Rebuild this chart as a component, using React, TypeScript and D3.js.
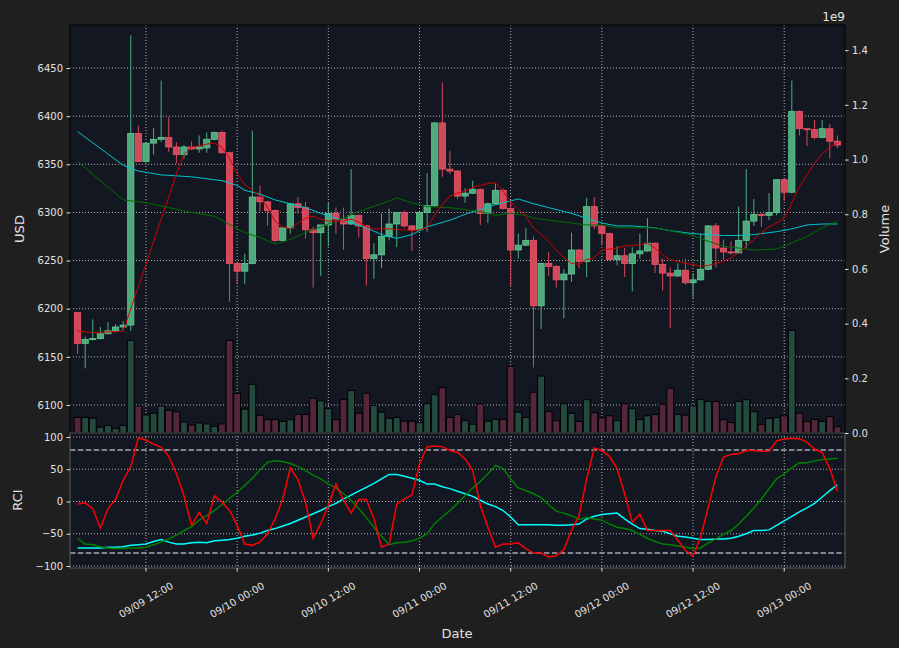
import React, { useEffect, useRef } from "react";
import * as d3 from "d3";

// hourly candles, first one at 09/09 03:00 (UTC)
const START = Date.UTC(2018, 8, 9, 3);
const HOUR = 3600 * 1000;

const opens = [
  6196, 6164, 6168, 6169, 6174, 6177, 6181, 6183, 6382, 6353, 6372, 6376, 6378, 6368, 6360, 6368, 6366, 6367, 6376, 6383,
  6362, 6247, 6239, 6247, 6316, 6311, 6302, 6271, 6284, 6309, 6305, 6282, 6279, 6287, 6299, 6293, 6288, 6297, 6286, 6252,
  6256, 6275, 6288, 6300, 6286, 6282, 6300, 6307, 6393, 6345, 6343, 6317, 6320, 6324, 6299, 6309, 6323, 6304, 6261, 6266,
  6271, 6203, 6247, 6244, 6230, 6236, 6261, 6249, 6306, 6286, 6278, 6251, 6255, 6247, 6257, 6260, 6268, 6246, 6237, 6234,
  6240, 6227, 6230, 6241, 6286, 6263, 6259, 6258, 6271, 6291, 6298, 6297, 6300, 6334, 6321, 6405, 6387, 6386, 6378, 6387,
  6374,
];
const highs = [
  6196, 6171, 6189, 6181, 6186, 6184, 6187, 6484, 6390, 6372, 6388, 6437, 6399, 6373, 6370, 6374, 6380, 6383, 6384, 6385,
  6363, 6248, 6257, 6385, 6328, 6312, 6303, 6284, 6310, 6316, 6311, 6285, 6287, 6310, 6305, 6305, 6345, 6298, 6287, 6268,
  6299, 6304, 6300, 6302, 6287, 6300, 6341, 6394, 6435, 6364, 6344, 6325, 6333, 6325, 6310, 6330, 6325, 6311, 6278, 6284,
  6275, 6248, 6259, 6245, 6241, 6279, 6262, 6315, 6316, 6287, 6279, 6265, 6263, 6264, 6278, 6294, 6269, 6252, 6243, 6247,
  6252, 6237, 6278, 6287, 6289, 6272, 6270, 6306, 6345, 6314, 6299, 6320, 6334, 6335, 6437, 6406, 6387, 6396, 6396, 6392,
  6380,
];
const lows = [
  6153, 6138, 6167, 6168, 6174, 6176, 6177, 6177, 6352, 6352, 6360, 6373, 6363, 6351, 6356, 6365, 6362, 6362, 6375, 6361,
  6207, 6226, 6226, 6246, 6301, 6286, 6269, 6270, 6278, 6299, 6273, 6222, 6234, 6265, 6278, 6261, 6287, 6274, 6224, 6231,
  6242, 6271, 6264, 6284, 6260, 6281, 6280, 6306, 6337, 6340, 6314, 6310, 6319, 6287, 6289, 6308, 6303, 6224, 6252, 6265,
  6139, 6179, 6234, 6222, 6190, 6228, 6242, 6233, 6283, 6267, 6250, 6245, 6233, 6218, 6252, 6259, 6237, 6219, 6180, 6233,
  6225, 6211, 6229, 6240, 6243, 6251, 6256, 6257, 6263, 6286, 6285, 6292, 6297, 6312, 6320, 6380, 6369, 6376, 6377, 6356,
  6367,
];
const closes = [
  6164, 6168, 6169, 6174, 6177, 6181, 6183, 6382, 6353, 6372, 6376, 6378, 6368, 6360, 6368, 6366, 6368, 6376, 6383, 6362,
  6247, 6239, 6247, 6316, 6311, 6302, 6271, 6284, 6309, 6305, 6282, 6279, 6287, 6299, 6293, 6288, 6297, 6286, 6252, 6256,
  6275, 6288, 6300, 6286, 6282, 6300, 6307, 6393, 6345, 6343, 6317, 6320, 6324, 6299, 6309, 6323, 6304, 6261, 6266, 6271,
  6203, 6247, 6244, 6230, 6236, 6261, 6249, 6306, 6286, 6278, 6251, 6255, 6247, 6257, 6260, 6268, 6246, 6237, 6234, 6240,
  6227, 6230, 6241, 6286, 6263, 6259, 6258, 6271, 6291, 6298, 6297, 6300, 6334, 6321, 6405, 6387, 6386, 6378, 6387, 6374,
  6370,
];
// volume in units of 1e9
const volumes = [
  0.057, 0.057, 0.054, 0.021, 0.028, 0.017, 0.028, 0.339, 0.099, 0.066, 0.072, 0.099, 0.083, 0.077, 0.04, 0.029, 0.037, 0.033, 0.024, 0.033,
  0.339, 0.145, 0.087, 0.178, 0.065, 0.049, 0.049, 0.042, 0.049, 0.068, 0.068, 0.127, 0.118, 0.089, 0.049, 0.123, 0.155, 0.072, 0.145, 0.101,
  0.076, 0.054, 0.057, 0.043, 0.043, 0.038, 0.107, 0.14, 0.166, 0.057, 0.068, 0.045, 0.032, 0.107, 0.043, 0.05, 0.05, 0.244, 0.076, 0.057,
  0.149, 0.208, 0.078, 0.045, 0.107, 0.072, 0.042, 0.122, 0.074, 0.056, 0.063, 0.045, 0.107, 0.089, 0.049, 0.063, 0.068, 0.105, 0.164, 0.068,
  0.065, 0.099, 0.123, 0.115, 0.115, 0.049, 0.038, 0.115, 0.122, 0.078, 0.031, 0.053, 0.056, 0.063, 0.375, 0.072, 0.042, 0.049, 0.042, 0.06,
  0.023,
];

// moving averages (short one per candle, longer ones as [candle, value] readings)
const maShort = [
  6177, 6176, 6175, 6175, 6176, 6176, 6177, 6200, 6223, 6246, 6270, 6293, 6316, 6340, 6360, 6368, 6369, 6371, 6372, 6368,
  6356, 6340, 6329, 6323, 6317, 6305, 6291, 6285, 6283, 6289, 6294, 6296, 6293, 6291, 6291, 6291, 6293, 6290, 6285, 6283,
  6283, 6283, 6282, 6282, 6281, 6282, 6284, 6297, 6308, 6317, 6320, 6322, 6326, 6328, 6330, 6331, 6322, 6311, 6303, 6296,
  6284, 6277, 6270, 6261, 6253, 6247, 6246, 6251, 6253, 6261, 6262, 6263, 6265, 6266, 6266, 6268, 6263, 6256, 6251, 6249,
  6247, 6246, 6244, 6245, 6247, 6249, 6253, 6258, 6265, 6272, 6279, 6285, 6289, 6294, 6310, 6327, 6339, 6351, 6361, 6368,
  6372,
];
const maMid: [number, number][] = [
  [0, 6353], [6, 6313], [9, 6310], [12, 6305], [15, 6300], [18, 6296], [19, 6292], [21, 6283], [22, 6279], [24, 6274],
  [26, 6267], [28, 6272], [30, 6279], [32, 6285], [35, 6294], [37, 6301], [40, 6309], [42, 6315], [44, 6310], [46, 6306],
  [49, 6305], [51, 6303], [53, 6301], [55, 6297], [57, 6299], [59, 6297], [60, 6294], [62, 6292], [65, 6289], [67, 6287],
  [69, 6287], [71, 6284], [76, 6284], [78, 6281], [81, 6276], [83, 6270], [85, 6265], [87, 6263], [89, 6261], [92, 6262],
  [93, 6265], [96, 6275], [98, 6284], [100, 6291],
];
const maLong: [number, number][] = [
  [0, 6384], [6, 6349], [8, 6343], [11, 6339], [15, 6337], [19, 6333], [21, 6328], [22, 6323], [24, 6319], [26, 6313],
  [28, 6309], [30, 6305], [32, 6299], [34, 6294], [36, 6289], [38, 6284], [40, 6277], [42, 6273], [44, 6277], [46, 6285],
  [49, 6292], [51, 6298], [53, 6303], [55, 6308], [58, 6314], [60, 6309], [62, 6305], [65, 6299], [67, 6294], [69, 6289],
  [71, 6286], [73, 6286], [76, 6284], [78, 6281], [81, 6278], [83, 6277], [85, 6276], [87, 6276], [89, 6277], [92, 6280],
  [94, 6283], [96, 6287], [98, 6288], [100, 6288],
];

const rciShort = [
  -4, -2, -11, -41, -11, 3, 33, 54, 99, 95, 89, 84, 70, 43, 9, -37, -17, -34, 9, -1,
  -14, -37, -66, -68, -63, -50, -27, 4, 52, 34, -1, -57, -34, -6, 27, 2, -18, 3, 3, -27,
  -71, -66, -4, 4, 10, 58, 85, 86, 85, 79, 76, 66, 48, -6, -40, -71, -66, -66, -64, -73,
  -80, -80, -86, -84, -75, -45, -22, 35, 83, 79, 70, 51, 12, -32, -20, -45, -45, -45, -45, -60,
  -76, -85, -55, -9, 38, 69, 73, 74, 79, 79, 78, 78, 94, 97, 98, 97, 92, 81, 76, 51,
  16,
];
const rciMid = [
  -57, -66, -67, -70, -72, -73, -73, -72, -72, -71, -67, -63, -58, -52, -45, -39, -29, -22, -14, -5,
  5, 14, 25, 36, 49, 61, 63, 62, 59, 54, 48, 41, 35, 27, 21, 12, 2, -11, -25, -40,
  -54, -67, -64, -63, -61, -57, -50, -34, -24, -14, -3, 9, 21, 31, 43, 56, 51, 35, 21, 17,
  12, 6, -5, -15, -18, -22, -28, -25, -27, -29, -35, -40, -42, -45, -51, -57, -62, -66, -67, -69,
  -71, -73, -72, -64, -58, -51, -45, -35, -23, -10, 4, 20, 35, 43, 52, 60, 60, 63, 65, 66,
  67,
];
const rciLong = [
  -72, -72, -72, -72, -71, -71, -70, -68, -67, -66, -62, -59, -63, -66, -66, -64, -63, -64, -61, -60,
  -59, -57, -54, -52, -49, -45, -42, -38, -34, -29, -24, -19, -14, -8, -3, 4, 10, 16, 22, 28,
  35, 42, 42, 39, 36, 33, 27, 27, 23, 20, 16, 12, 8, 2, -4, -8, -14, -24, -36, -36,
  -36, -36, -36, -37, -37, -36, -35, -27, -23, -20, -19, -18, -27, -35, -42, -43, -45, -46, -50, -54,
  -55, -57, -59, -59, -58, -58, -57, -54, -50, -45, -45, -44, -37, -30, -23, -16, -10, -3, 7, 17,
  26,
];

const priceTicks = [6100, 6150, 6200, 6250, 6300, 6350, 6400, 6450];
const volumeTicks = [0, 0.2, 0.4, 0.6, 0.8, 1.0, 1.2, 1.4];
const rciTicks = [-100, -50, 0, 50, 100];
const rciBands = [80, -80];

const W = 899;
const H = 648;
const FONT = "DejaVu Sans, Verdana, sans-serif";
const TEXT = "#e2e2e2";

const App: React.FC = () => {
  const svgRef = useRef<SVGSVGElement>(null);

  useEffect(() => {
    if (!svgRef.current) return;
    const svg = d3.select(svgRef.current);
    svg.selectAll("*").remove();

    const left = 70;
    const right = 845;
    const top = 25;
    const mid = 433;
    const bottom = 568;

    svg.append("rect").attr("width", W).attr("height", H).attr("fill", "#1f1f1f");

    const n = opens.length;
    const dateOf = (i: number) => new Date(START + i * HOUR);

    const x = d3
      .scaleUtc()
      .domain([dateOf(-1), dateOf(n)])
      .range([left, right]);
    const yPrice = d3.scaleLinear().domain([6070.9, 6494.7]).range([mid, top]);
    const yVol = d3.scaleLinear().domain([0, 1.492]).range([mid, top]);
    const yRci = d3.scaleLinear().domain([-103.1, 106.2]).range([bottom, mid]);

    const xTicks = x.ticks(d3.utcHour.every(12) as d3.TimeInterval);
    const step = x(dateOf(1)) - x(dateOf(0));

    // panel backgrounds
    svg.append("rect")
      .attr("x", left).attr("y", top)
      .attr("width", right - left).attr("height", mid - top)
      .attr("fill", "#131722");
    svg.append("rect")
      .attr("x", left).attr("y", mid)
      .attr("width", right - left).attr("height", bottom - mid)
      .attr("fill", "#131722");

    const grid = svg.append("g")
      .attr("stroke", "#d8d8d8")
      .attr("stroke-opacity", 0.8)
      .attr("stroke-width", 1)
      .attr("stroke-dasharray", "1,2");

    priceTicks.forEach((t) => {
      grid.append("line")
        .attr("x1", left).attr("x2", right)
        .attr("y1", yPrice(t)).attr("y2", yPrice(t));
    });
    rciTicks.forEach((t) => {
      grid.append("line")
        .attr("x1", left).attr("x2", right)
        .attr("y1", yRci(t)).attr("y2", yRci(t));
    });
    xTicks.forEach((t) => {
      grid.append("line")
        .attr("x1", x(t)).attr("x2", x(t))
        .attr("y1", top).attr("y2", mid);
      grid.append("line")
        .attr("x1", x(t)).attr("x2", x(t))
        .attr("y1", mid).attr("y2", bottom);
    });

    // volume bars
    const volW = step * 0.9;
    svg.append("g")
      .selectAll("rect")
      .data(volumes)
      .join("rect")
      .attr("x", (_, i) => x(dateOf(i)) - volW / 2)
      .attr("y", (d) => yVol(d))
      .attr("width", volW)
      .attr("height", (d) => mid - yVol(d))
      .attr("fill", (_, i) => (closes[i] >= opens[i] ? "#244a3f" : "#53263a"))
      .attr("stroke", "#000")
      .attr("stroke-width", 1);

    // candles
    const bodyW = step * 0.82;
    const candles = svg.append("g");
    opens.forEach((o, i) => {
      const c = closes[i];
      const up = c >= o;
      const cx = x(dateOf(i));
      candles.append("line")
        .attr("x1", cx).attr("x2", cx)
        .attr("y1", yPrice(highs[i])).attr("y2", yPrice(lows[i]))
        .attr("stroke", up ? "#4fae80" : "#d9485b")
        .attr("stroke-width", 1);
      const y0 = yPrice(Math.max(o, c));
      const h = Math.max(1, Math.abs(yPrice(o) - yPrice(c)));
      candles.append("rect")
        .attr("x", cx - bodyW / 2).attr("y", y0)
        .attr("width", bodyW).attr("height", h)
        .attr("fill", up ? "#4fa97c" : "#d2495c")
        .attr("stroke", up ? "#62c996" : "#ee5468")
        .attr("stroke-width", 0.8);
    });

    // moving averages
    const lineIdx = d3.line<[number, number]>()
      .x((d) => x(dateOf(d[0])))
      .y((d) => yPrice(d[1]));
    svg.append("path")
      .attr("d", lineIdx(maLong))
      .attr("fill", "none").attr("stroke", "#00c4cc").attr("stroke-width", 1);
    svg.append("path")
      .attr("d", lineIdx(maMid))
      .attr("fill", "none").attr("stroke", "#006d00").attr("stroke-width", 1);
    svg.append("path")
      .attr("d", lineIdx(maShort.map((v, i) => [i, v] as [number, number])))
      .attr("fill", "none").attr("stroke", "#d00000").attr("stroke-width", 1);

    // RCI
    rciBands.forEach((b) => {
      svg.append("line")
        .attr("x1", left).attr("x2", right)
        .attr("y1", yRci(b)).attr("y2", yRci(b))
        .attr("stroke", "#a6a6ae").attr("stroke-width", 1.5)
        .attr("stroke-dasharray", "5.5,2.4");
    });
    const rciLine = d3.line<number>()
      .x((_, i) => x(dateOf(i)))
      .y((d) => yRci(d));
    svg.append("path").attr("d", rciLine(rciLong))
      .attr("fill", "none").attr("stroke", "#00ffff").attr("stroke-width", 1.5);
    svg.append("path").attr("d", rciLine(rciMid))
      .attr("fill", "none").attr("stroke", "#008000").attr("stroke-width", 1.5);
    svg.append("path").attr("d", rciLine(rciShort))
      .attr("fill", "none").attr("stroke", "#ff0000").attr("stroke-width", 1.5);

    // panel frames
    svg.append("rect")
      .attr("x", left).attr("y", top)
      .attr("width", right - left).attr("height", mid - top)
      .attr("fill", "none").attr("stroke", "#000").attr("stroke-width", 1);
    svg.append("rect")
      .attr("x", left).attr("y", mid)
      .attr("width", right - left).attr("height", bottom - mid)
      .attr("fill", "none").attr("stroke", "#5a5a5a").attr("stroke-width", 1);

    // axes
    const styleAxis = (g: d3.Selection<SVGGElement, unknown, null, undefined>) => {
      g.attr("color", TEXT);
      g.select(".domain").remove();
      g.selectAll("text").style("font-size", "10px").style("font-family", FONT);
    };

    svg.append("g")
      .attr("transform", `translate(${left},0)`)
      .call(d3.axisLeft(yPrice).tickValues(priceTicks).tickSize(3.5).tickPadding(3.5).tickFormat(d3.format("d")))
      .call(styleAxis);

    svg.append("g")
      .attr("transform", `translate(${right},0)`)
      .call(d3.axisRight(yVol).tickValues(volumeTicks).tickSize(3.5).tickPadding(3.5).tickFormat(d3.format(".1f")))
      .call(styleAxis);

    svg.append("g")
      .attr("transform", `translate(${left},0)`)
      .call(d3.axisLeft(yRci).tickValues(rciTicks).tickSize(3.5).tickPadding(3.5).tickFormat(d3.format("d")))
      .call(styleAxis);

    const xAxis = svg.append("g").attr("color", TEXT);
    const fmt = d3.utcFormat("%m/%d %H:%M");
    xTicks.forEach((t) => {
      const tx = x(t);
      xAxis.append("line")
        .attr("x1", tx).attr("x2", tx)
        .attr("y1", bottom).attr("y2", bottom + 3.5)
        .attr("stroke", TEXT);
      xAxis.append("text")
        .attr("x", tx).attr("y", 600)
        .attr("transform", `rotate(-30,${tx},600)`)
        .attr("text-anchor", "middle")
        .attr("dominant-baseline", "central")
        .attr("fill", TEXT)
        .style("font-size", "10px")
        .style("font-family", FONT)
        .text(fmt(t));
    });

    const label = (txt: string, lx: number, ly: number, rot: number) => {
      svg.append("text")
        .attr("x", lx).attr("y", ly)
        .attr("transform", rot ? `rotate(${rot},${lx},${ly})` : null)
        .attr("text-anchor", "middle")
        .attr("dominant-baseline", "central")
        .attr("fill", TEXT)
        .style("font-size", "13px")
        .style("font-family", FONT)
        .text(txt);
    };
    label("USD", 19, 229, -90);
    label("RCI", 17, 500, -90);
    label("Volume", 884, 229, -90);
    label("Date", 457, 633, 0);

    svg.append("text")
      .attr("x", right).attr("y", 21)
      .attr("text-anchor", "end")
      .attr("fill", TEXT)
      .style("font-size", "12px")
      .style("font-family", FONT)
      .text("1e9");
  }, []);

  return (
    <svg
      ref={svgRef}
      width={W}
      height={H}
      style={{ position: "absolute", left: 0, top: 0, display: "block" }}
    />
  );
};

export default App;
